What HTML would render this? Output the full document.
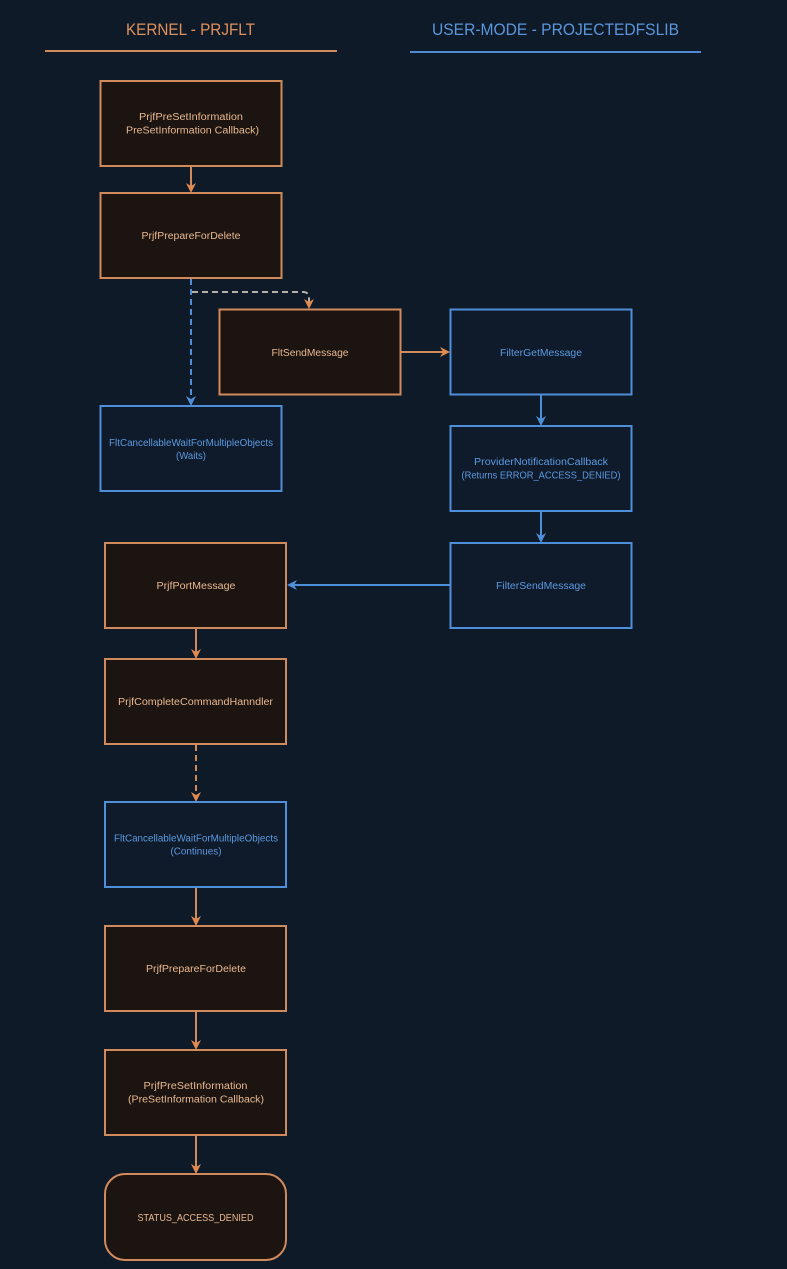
<!DOCTYPE html>
<html><head><meta charset="utf-8"><style>
html,body{margin:0;padding:0;background:#0f1a28;}
svg{display:block;}
text{font-family:"Liberation Sans",sans-serif;}
</style></head><body>
<svg width="787" height="1269" viewBox="0 0 787 1269" xmlns="http://www.w3.org/2000/svg">
<rect x="0" y="0" width="787" height="1269" fill="#0f1a28"/>

<!-- headers -->
<text x="190.5" y="35" font-size="17" fill="#e0905c" text-anchor="middle" textLength="129" lengthAdjust="spacingAndGlyphs">KERNEL - PRJFLT</text>
<line x1="45" y1="51" x2="337" y2="51" stroke="#d08a5c" stroke-width="2"/>
<text x="555.5" y="35" font-size="17" fill="#5b96dc" text-anchor="middle" textLength="247" lengthAdjust="spacingAndGlyphs">USER-MODE - PROJECTEDFSLIB</text>
<line x1="410" y1="52" x2="701" y2="52" stroke="#4f8ad2" stroke-width="2"/>

<g stroke-width="2">
<!-- orange boxes -->
<rect x="100.5" y="81" width="181" height="85" fill="#1c1411" stroke="#d08a5c"/>
<rect x="100.5" y="193" width="181" height="85" fill="#1c1411" stroke="#d08a5c"/>
<rect x="219.5" y="309.5" width="181" height="85" fill="#1c1411" stroke="#d08a5c"/>
<rect x="105" y="543" width="181" height="85" fill="#1c1411" stroke="#d08a5c"/>
<rect x="105" y="659" width="181" height="85" fill="#1c1411" stroke="#d08a5c"/>
<rect x="105" y="926" width="181" height="85" fill="#1c1411" stroke="#d08a5c"/>
<rect x="105" y="1050" width="181" height="85" fill="#1c1411" stroke="#d08a5c"/>
<rect x="105" y="1174" width="181" height="86" rx="20" ry="20" fill="#1c1411" stroke="#d08a5c"/>
<!-- blue boxes -->
<rect x="450.5" y="309.5" width="181" height="85" fill="#0f1a2a" stroke="#4f8fda"/>
<rect x="100.5" y="406" width="181" height="85" fill="#0f1a2a" stroke="#4f8fda"/>
<rect x="450.5" y="426" width="181" height="85" fill="#0f1a2a" stroke="#4f8fda"/>
<rect x="450.5" y="543" width="181" height="85" fill="#0f1a2a" stroke="#4f8fda"/>
<rect x="105" y="802" width="181" height="85" fill="#0f1a2a" stroke="#4f8fda"/>
</g>

<!-- connectors -->
<g fill="none" stroke-width="2">
<line x1="191" y1="166" x2="191" y2="188" stroke="#d08a5c"/>
<line x1="191" y1="279" x2="191" y2="400" stroke="#4f8fda" stroke-dasharray="6 4"/>
<path d="M192 292 H303 Q309 292 309 298 V303" stroke="#b7b0a8" stroke-dasharray="6 4"/>
<line x1="401" y1="352" x2="445" y2="352" stroke="#d08a5c"/>
<line x1="541" y1="395" x2="541" y2="421" stroke="#4f8fda"/>
<line x1="541" y1="512" x2="541" y2="538" stroke="#4f8fda"/>
<line x1="450" y1="585" x2="292" y2="585" stroke="#4f8fda"/>
<line x1="196" y1="629" x2="196" y2="654" stroke="#d08a5c"/>
<line x1="196" y1="745" x2="196" y2="797" stroke="#d08a5c" stroke-dasharray="6 4"/>
<line x1="196" y1="888" x2="196" y2="921" stroke="#d08a5c"/>
<line x1="196" y1="1012" x2="196" y2="1045" stroke="#d08a5c"/>
<line x1="196" y1="1136" x2="196" y2="1169" stroke="#d08a5c"/>
</g>

<!-- arrowheads -->
<g>
<path d="M191 193 L186 183 L191 186 L196 183 Z" fill="#e08a50"/>
<path d="M191 406 L186 396 L191 399 L196 396 Z" fill="#4f8fda"/>
<path d="M309 309 L304 299 L309 302 L314 299 Z" fill="#e08a50"/>
<path d="M450 352 L440 347 L443 352 L440 357 Z" fill="#e08a50"/>
<path d="M541 426 L536 416 L541 419 L546 416 Z" fill="#4f8fda"/>
<path d="M541 543 L536 533 L541 536 L546 533 Z" fill="#4f8fda"/>
<path d="M287 585 L297 580 L294 585 L297 590 Z" fill="#4f8fda"/>
<path d="M196 659 L191 649 L196 652 L201 649 Z" fill="#e08a50"/>
<path d="M196 802 L191 792 L196 795 L201 792 Z" fill="#e08a50"/>
<path d="M196 926 L191 916 L196 919 L201 916 Z" fill="#e08a50"/>
<path d="M196 1050 L191 1040 L196 1043 L201 1040 Z" fill="#e08a50"/>
<path d="M196 1174 L191 1164 L196 1167 L201 1164 Z" fill="#e08a50"/>
</g>

<!-- labels orange -->
<g font-size="10" fill="#e9b890" text-anchor="middle">
<text x="191" y="120" textLength="104" lengthAdjust="spacingAndGlyphs">PrjfPreSetInformation</text>
<text x="192.5" y="133.5" textLength="133" lengthAdjust="spacingAndGlyphs">PreSetInformation Callback)</text>
<text x="191" y="239" textLength="99" lengthAdjust="spacingAndGlyphs">PrjfPrepareForDelete</text>
<text x="310" y="356" textLength="77" lengthAdjust="spacingAndGlyphs">FltSendMessage</text>
<text x="196" y="589" textLength="79" lengthAdjust="spacingAndGlyphs">PrjfPortMessage</text>
<text x="195.5" y="705" textLength="155" lengthAdjust="spacingAndGlyphs">PrjfCompleteCommandHanndler</text>
<text x="196" y="972" textLength="100" lengthAdjust="spacingAndGlyphs">PrjfPrepareForDelete</text>
<text x="195.5" y="1089" textLength="104" lengthAdjust="spacingAndGlyphs">PrjfPreSetInformation</text>
<text x="196" y="1102.5" textLength="136" lengthAdjust="spacingAndGlyphs">(PreSetInformation Callback)</text>
<text x="195.5" y="1221" textLength="116" lengthAdjust="spacingAndGlyphs">STATUS_ACCESS_DENIED</text>
</g>
<!-- labels blue -->
<g font-size="10" fill="#5b9ae0" text-anchor="middle">
<text x="541" y="356" textLength="82" lengthAdjust="spacingAndGlyphs">FilterGetMessage</text>
<text x="191" y="446" textLength="164" lengthAdjust="spacingAndGlyphs">FltCancellableWaitForMultipleObjects</text>
<text x="191" y="459" textLength="30" lengthAdjust="spacingAndGlyphs">(Waits)</text>
<text x="541" y="465" textLength="134" lengthAdjust="spacingAndGlyphs">ProviderNotificationCallback</text>
<text x="541" y="478.5" textLength="159" lengthAdjust="spacingAndGlyphs">(Returns ERROR_ACCESS_DENIED)</text>
<text x="541" y="589" textLength="90" lengthAdjust="spacingAndGlyphs">FilterSendMessage</text>
<text x="196" y="841.5" textLength="164" lengthAdjust="spacingAndGlyphs">FltCancellableWaitForMultipleObjects</text>
<text x="196" y="854.5" textLength="51" lengthAdjust="spacingAndGlyphs">(Continues)</text>
</g>
</svg>
</body></html>
